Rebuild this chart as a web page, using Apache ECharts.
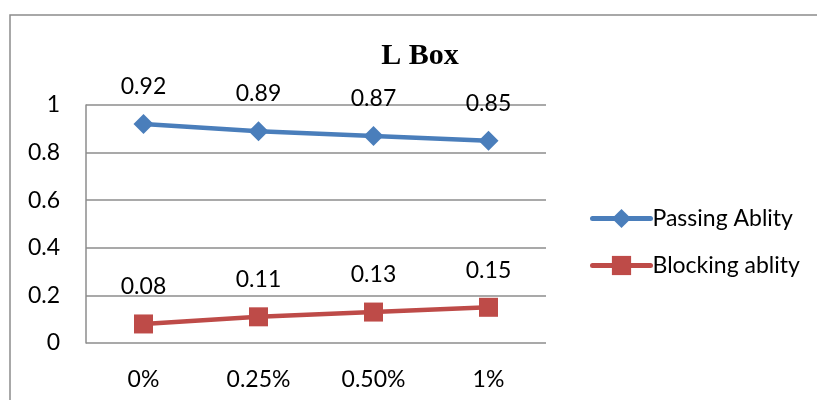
<!DOCTYPE html>
<html><head><meta charset="utf-8">
<script src="https://cdn.jsdelivr.net/npm/echarts@6/dist/echarts.min.js"></script>
<style>html,body{margin:0;padding:0;background:#fff}#c{width:817px;height:400px}</style>
</head><body><div id="c"></div>
<script>
const categories = ['0%', '0.25%', '0.50%', '1%'];
const passingAbility = [0.92, 0.89, 0.87, 0.85];
const blockingAbility = [0.08, 0.11, 0.13, 0.15];
const yTicks = [0, 0.2, 0.4, 0.6, 0.8, 1];

const font = 'Lato';
const fs = 23;
const chart = echarts.init(document.getElementById('c'));
chart.setOption({
  animation: false,
  title: {
    text: 'L Box', left: 415, top: 36, textAlign: 'center',
    textStyle: { fontFamily: 'Liberation Serif', fontWeight: 'bold', fontSize: 30, color: '#000' }
  },
  graphic: [{
    type: 'rect', shape: { x: 10, y: 15, width: 830, height: 420 },
    style: { fill: 'none', stroke: '#8c8c8c', lineWidth: 1.5 }, silent: true
  }],
  grid: { left: 86, top: 105, width: 460, height: 238 },
  legend: {
    orient: 'vertical', left: 585, top: 202, itemGap: 24, itemWidth: 58, itemHeight: 24,
    lineStyle: { width: 5, cap: 'round' },
    textStyle: { fontFamily: font, fontSize: fs, color: '#000', padding: [0, 0, 0, -3] },
    data: ['Passing Ablity', 'Blocking ablity']
  },
  xAxis: {
    type: 'category', data: categories, boundaryGap: true,
    axisLine: { show: false }, axisTick: { show: false },
    axisLabel: { fontFamily: font, fontSize: fs, color: '#000', margin: 25 }
  },
  yAxis: {
    type: 'value', min: 0, max: 1, interval: 0.2,
    axisLine: { show: true, lineStyle: { color: '#8c8c8c', width: 1.5 } },
    axisTick: { show: false },
    splitLine: { lineStyle: { color: '#8c8c8c', width: 1.5 } },
    axisLabel: { fontFamily: font, fontSize: fs, color: '#000', margin: 26,
      formatter: v => yTicks.includes(Math.round(v * 10) / 10) ? String(Math.round(v * 10) / 10) : '' }
  },
  series: [{
    name: 'Passing Ablity', type: 'line', data: passingAbility,
    symbol: 'diamond', symbolSize: 20, itemStyle: { color: '#4a7ebb' },
    lineStyle: { color: '#4a7ebb', width: 4.5 },
    label: { show: true, position: 'top', distance: 16, fontFamily: font, fontSize: fs, color: '#000' }
  }, {
    name: 'Blocking ablity', type: 'line', data: blockingAbility,
    symbol: 'rect', symbolSize: 19, itemStyle: { color: '#be4b48' },
    lineStyle: { color: '#be4b48', width: 4.5 },
    label: { show: true, position: 'top', distance: 16, fontFamily: font, fontSize: fs, color: '#000' }
  }]
});
</script></body></html>
